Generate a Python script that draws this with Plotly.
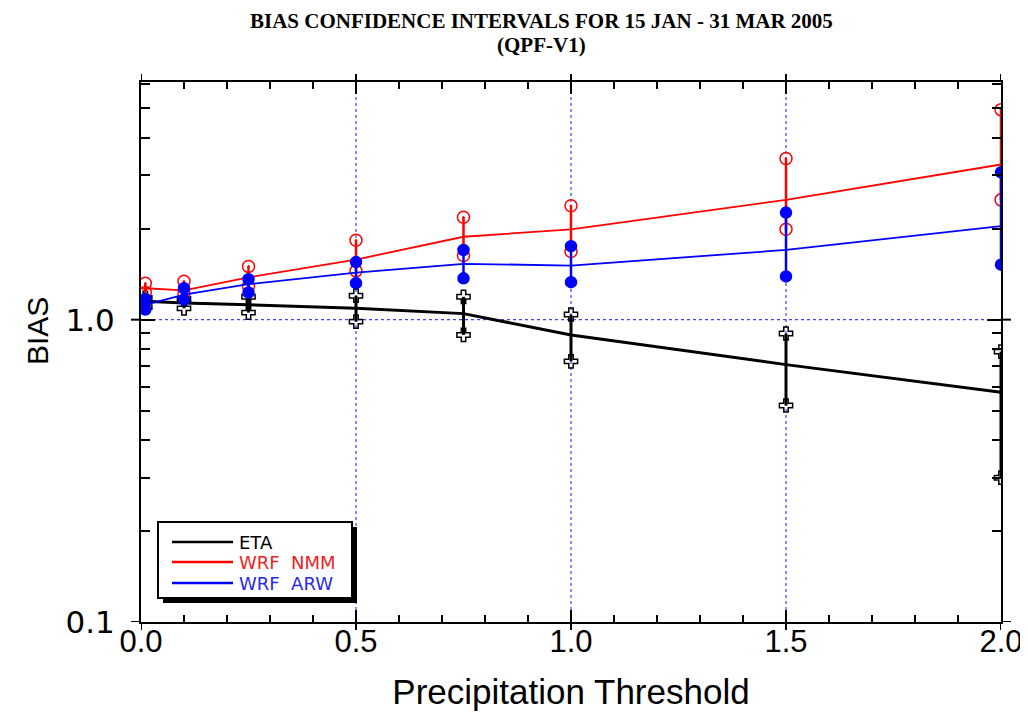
import plotly.graph_objects as go

# ---------------- data ----------------
thresholds = [0.01, 0.1, 0.25, 0.5, 0.75, 1.0, 1.5, 2.0]

eta_bias = [1.15, 1.135, 1.12, 1.09, 1.047, 0.89, 0.71, 0.575]
eta_lo   = [1.10, 1.09, 1.055, 0.985, 0.89, 0.728, 0.52, 0.30]
eta_hi   = [1.18, 1.17, 1.19, 1.20, 1.19, 1.04, 0.90, 0.784]

nmm_bias = [1.27, 1.25, 1.38, 1.58, 1.88, 1.99, 2.49, 3.26]
nmm_lo   = [1.23, 1.22, 1.29, 1.45, 1.63, 1.68, 1.99, 2.49]
nmm_hi   = [1.32, 1.34, 1.50, 1.83, 2.18, 2.38, 3.41, 4.95]

arw_bias = [1.12, 1.21, 1.31, 1.43, 1.53, 1.51, 1.70, 2.04]
arw_lo   = [1.08, 1.165, 1.23, 1.32, 1.37, 1.33, 1.39, 1.52]
arw_hi   = [1.17, 1.27, 1.36, 1.55, 1.70, 1.75, 2.26, 3.07]

series_names = ["ETA", "WRF  NMM", "WRF  ARW"]
title_lines = ["BIAS CONFIDENCE INTERVALS FOR 15 JAN - 31 MAR 2005", "(QPF-V1)"]

x_ticks = [0.0, 0.5, 1.0, 1.5, 2.0]
x_tick_labels = ["0.0", "0.5", "1.0", "1.5", "2.0"]
y_ticks = [0.1, 1.0]
y_tick_labels = ["0.1", "1.0"]

styles = [
    dict(col="black", sym="cross-open", lw=3, ms=11, tcol="#000000"),
    dict(col="#ff0000", sym="circle-open-dot", lw=1.8, ms=12, tcol="#ee2222"),
    dict(col="#0000ff", sym="circle", lw=1.8, ms=11, tcol="#2a2ae8"),
]
data = [(eta_bias, eta_lo, eta_hi), (nmm_bias, nmm_lo, nmm_hi), (arw_bias, arw_lo, arw_hi)]

# page offset (browser body margin) and plot frame in screen pixels
OFF = 8
FW, FH = 1028 - OFF, 719 - 2 * OFF
L, R, T, B = 141, 1001, 82, 622          # screen pixels of the frame
Lf, Rf, Tf, Bf = L - OFF, R - OFF, T - OFF, B - OFF
W, H = Rf - Lf, Bf - Tf
def px(X):
    return (X - OFF - Lf) / W
def py(Y):
    return (Bf - (Y - OFF)) / H

fig = go.Figure()

# reference lines (blue dotted)
for xv in [0.5, 1.0, 1.5]:
    fig.add_shape(type="line", x0=xv, x1=xv, y0=0, y1=1, xref="x", yref="paper",
                  line=dict(color="#4040ff", width=1.2, dash="dot"), layer="below")
fig.add_shape(type="line", x0=0, x1=1, y0=1.0, y1=1.0, xref="paper", yref="y",
              line=dict(color="#4040ff", width=1.2, dash="dot"), layer="below")

# outside halves of major ticks (ticks cross the frame)
for yv in y_ticks:
    fig.add_shape(type="line", xref="paper", yref="y", x0=px(L - 10), x1=px(L), y0=yv, y1=yv,
                  line=dict(color="black", width=2))
    fig.add_shape(type="line", xref="paper", yref="y", x0=px(R), x1=px(R + 10), y0=yv, y1=yv,
                  line=dict(color="black", width=2))
for xv in x_ticks:
    fig.add_shape(type="line", xref="x", yref="paper", x0=xv, x1=xv, y0=py(B + 8), y1=py(B),
                  line=dict(color="black", width=2))
    fig.add_shape(type="line", xref="x", yref="paper", x0=xv, x1=xv, y0=py(T), y1=py(T - 8),
                  line=dict(color="black", width=2))

for (bias, lo, hi), st in zip(data, styles):
    col = st["col"]
    fig.add_trace(go.Scatter(x=thresholds, y=bias, mode="lines",
                             line=dict(color=col, width=st["lw"]), showlegend=False,
                             hoverinfo="skip"))
    xs, ys = [], []
    for xv, l, h in zip(thresholds, lo, hi):
        xs += [xv, xv, None]
        ys += [l, h, None]
    fig.add_trace(go.Scatter(x=xs, y=ys, mode="lines",
                             line=dict(color=col, width=3 if col == "black" else 2.5),
                             showlegend=False, hoverinfo="skip"))
    fig.add_trace(go.Scatter(x=thresholds + thresholds, y=lo + hi, mode="markers",
                             marker=dict(symbol=st["sym"], size=st["ms"], color=col,
                                         line=dict(color=col, width=1.5)),
                             showlegend=False))

# ---- manual legend (box, shadow, samples, labels) ----
fig.add_shape(type="rect", xref="paper", yref="paper",
              x0=px(163), x1=px(357), y0=py(603), y1=py(527),
              fillcolor="black", line=dict(width=0), layer="above")
fig.add_shape(type="rect", xref="paper", yref="paper",
              x0=px(158), x1=px(352), y0=py(598), y1=py(522),
              fillcolor="white", line=dict(color="black", width=2), layer="above")
row_y = [542, 562, 583]
for name, st, ry in zip(series_names, styles, row_y):
    fig.add_shape(type="line", xref="paper", yref="paper",
                  x0=px(172), x1=px(233), y0=py(ry), y1=py(ry),
                  line=dict(color=st["col"], width=2.5), layer="above")
    fig.add_trace(go.Scatter(x=[px(202)], y=[py(ry)], xaxis="x2", yaxis="y2",
                             mode="markers", showlegend=False, hoverinfo="skip",
                             marker=dict(symbol=st["sym"], size=10, color=st["col"],
                                         line=dict(color=st["col"], width=1.5))))
    fig.add_annotation(text=name, xref="paper", yref="paper", x=px(237), y=py(ry),
                       xanchor="left", yanchor="middle", showarrow=False,
                       font=dict(family="DejaVu Sans", size=18, color=st["tcol"]))

# title (two lines)
for txt, ty in zip(title_lines, [21, 45]):
    fig.add_annotation(text=f"<b>{txt}</b>", xref="paper", yref="paper",
                       x=px(541), y=py(ty), xanchor="center", yanchor="middle",
                       showarrow=False,
                       font=dict(family="Liberation Serif", size=21, color="black"))

# y-axis title as annotation
fig.add_annotation(text="BIAS", xref="paper", yref="paper", x=px(37), y=py(331),
                   xanchor="center", yanchor="middle", textangle=-90, showarrow=False,
                   font=dict(family="Liberation Sans", size=30, color="black"))

fig.update_layout(
    width=FW, height=FH,
    margin=dict(l=Lf, r=FW - Rf, t=Tf, b=FH - Bf, autoexpand=False),
    paper_bgcolor="white", plot_bgcolor="white",
    showlegend=False,
    xaxis=dict(range=[0, 2], showgrid=False, zeroline=False, automargin=False,
               tickvals=x_ticks, ticktext=x_tick_labels,
               ticks="inside", ticklen=12, tickwidth=2, tickcolor="black",
               ticklabelstandoff=-9,
               minor=dict(dtick=0.1, ticks="inside", ticklen=7, tickwidth=2, tickcolor="black"),
               showline=True, linecolor="black", linewidth=2, mirror="allticks",
               tickfont=dict(family="Liberation Sans", size=31, color="black"),
               title=dict(text="Precipitation Threshold", standoff=27,
                          font=dict(family="Liberation Sans", size=35, color="black"))),
    yaxis=dict(type="log", range=[-1, 0.786], showgrid=False, zeroline=False, automargin=False,
               tickvals=y_ticks, ticktext=y_tick_labels,
               ticks="inside", ticklen=14, tickwidth=2, tickcolor="black",
               ticklabelstandoff=18,
               minor=dict(tickvals=[0.2, 0.3, 0.4, 0.5, 0.6, 0.7, 0.8, 0.9,
                                    2, 3, 4, 5, 6],
                          ticks="inside", ticklen=9, tickwidth=2, tickcolor="black"),
               showline=True, linecolor="black", linewidth=2, mirror="allticks",
               tickfont=dict(family="DejaVu Sans", size=31, color="black")),
    xaxis2=dict(overlaying="x", range=[0, 1], visible=False),
    yaxis2=dict(overlaying="y", range=[0, 1], visible=False),
)

fig.write_html("out.html")
